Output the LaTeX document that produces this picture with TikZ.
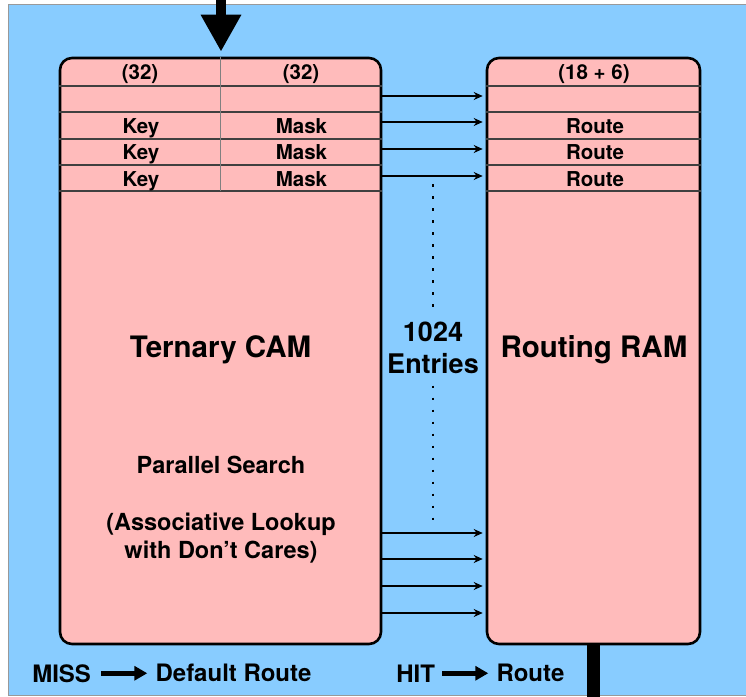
\documentclass[tikz,border=0pt]{standalone}
\usepackage{fontspec}
\setmainfont{TeX Gyre Heros}
\usetikzlibrary{arrows.meta,positioning,calc}
\definecolor{skyblue}{RGB}{136,204,255}
\definecolor{rosepink}{RGB}{255,187,187}

\begin{document}
\begin{tikzpicture}[x=1pt, y=-1pt, >={Stealth[length=9pt,width=8pt]}, semithick]
\tikzstyle{block}=[draw=black, line width=2.6pt, fill=rosepink, rounded corners=12pt, inner sep=0pt]
\tikzstyle{rowline}=[draw=black!75, line width=1.3pt]
\tikzstyle{cell}=[font=\fontsize{20.5}{24}\selectfont\bfseries, inner sep=0pt, anchor=base]
\tikzstyle{title}=[font=\fontsize{29.5}{34}\selectfont\bfseries, inner sep=0pt, anchor=base]
\tikzstyle{note}=[font=\fontsize{23.5}{28}\selectfont\bfseries, inner sep=0pt, align=center]
\tikzstyle{count}=[font=\fontsize{27}{32}\selectfont\bfseries, inner sep=12pt, align=center]
\tikzstyle{legend}=[font=\fontsize{24}{28}\selectfont\bfseries, inner sep=0pt]
\tikzstyle{link}=[->, line width=1.4pt, shorten >=3pt]
\tikzstyle{fat}=[-{Triangle[width=14pt,length=13pt]}, line width=4.5pt]
\tikzstyle{dots}=[line width=2.5pt, dash pattern=on 2.5pt off 9.5pt]

\useasboundingbox (0,0) rectangle (746,696);
\filldraw[fill=skyblue, draw=black!40, line width=1pt] (8,4) rectangle (760,695);

% the two memories
\node[block, minimum width=321pt, minimum height=586pt] (tcam) at (220.5,351) {};
\node[block, minimum width=213pt, minimum height=586pt] (ram) at (593.5,351) {};

\foreach \y in {86,112,139,165,191} {
  \draw[rowline] (tcam.west |- 0,\y) -- (tcam.east |- 0,\y);
  \draw[rowline] (ram.west |- 0,\y) -- (ram.east |- 0,\y);
}
\draw[draw=black!50, line width=1.3pt] (tcam.north) -- (tcam.north |- 0,191);

\node[cell] (kw) at (140,79) {(32)};
\node[cell] (mw) at (301,79) {(32)};
\node[cell] (rw) at (594,79) {(18 + 6)};
\foreach \y/\n in {133/1,159.5/2,186/3} {
  \node[cell] (key\n) at (141,\y) {Key};
  \node[cell] (mask\n) at (301.5,\y) {Mask};
  \node[cell] (route\n) at (595,\y) {Route};
}

\node[title] (camname) at (220.5,357) {Ternary CAM};
\node[title] (ramname) at (594,357) {Routing RAM};
\node[note, anchor=base] (search) at (221,473) {Parallel Search};
\node[note] (lookup) at (221,538) {(Associative Lookup\\with Don’t Cares)};

% match lines
\foreach \y in {96,122,149,176,533,559,586,613}
  \draw[link] (tcam.east |- 0,\y) -- (ram.west |- 0,\y);

\node[count] (entries) at (433,347.5) {1024\\Entries};
\coordinate (dtop) at (433,184);
\coordinate (dbot) at (433,522);
\draw[dots] (dtop) -- (entries.north);
\draw[dots] (entries.south) -- (dbot);

% key in, result out
\coordinate (feed) at (221,-4);
\draw[-{Triangle[width=38pt,length=37pt]}, line width=10pt, shorten >=5pt] (feed) -- (feed |- tcam.north);
\coordinate (out) at (594,700);
\draw[line width=13pt] (ram.south) -- (ram.south |- out);

\node[legend, anchor=base west] (miss) at (32,682) {MISS};
\node[legend, right=64pt of miss] (dflt) {Default Route};
\node[legend, anchor=base west] (hit) at (396,682) {HIT};
\node[legend, right=61pt of hit] (hroute) {Route};
\draw[fat, shorten <=10pt, shorten >=8pt] (miss) -- (dflt);
\draw[fat, shorten <=7pt, shorten >=8pt] (hit) -- (hroute);
\end{tikzpicture}
\end{document}
